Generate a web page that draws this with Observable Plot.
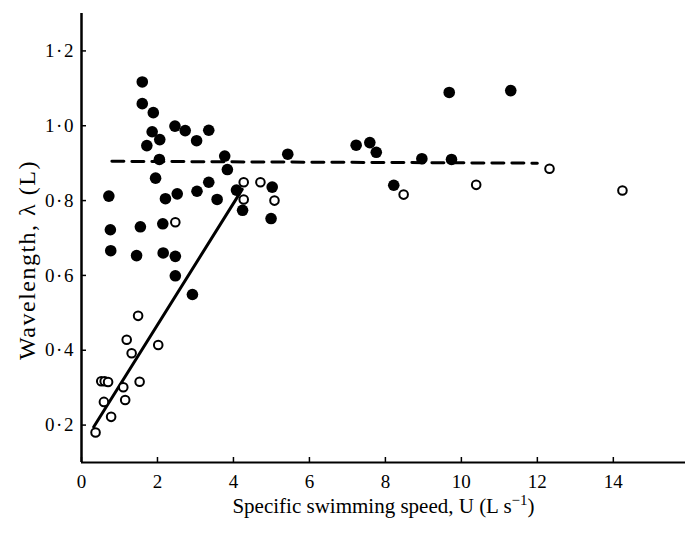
<!DOCTYPE html>
<html>
<head>
<meta charset="utf-8">
<script src="https://cdn.jsdelivr.net/npm/d3@7"></script>
<script src="https://cdn.jsdelivr.net/npm/@observablehq/plot@0.6"></script>
<style>
  html, body { margin: 0; padding: 0; background: #fff; }
  #chart { width: 685px; height: 533px; }
</style>
</head>
<body>
<div id="chart"></div>
<script>
// Filled circles
const filledX = [1.60, 1.60, 1.89, 2.46, 2.73, 3.35, 1.86, 2.06, 3.03, 1.72, 3.77, 2.05, 3.84, 1.95, 3.35, 3.04, 2.52, 2.21, 3.57, 0.72, 4.08, 5.02, 4.24, 4.99, 0.76, 1.55, 2.14, 0.77, 1.45, 2.15, 2.47, 2.47, 2.92, 5.43, 7.23, 7.59, 7.76, 8.96, 8.22, 9.68, 11.30, 9.74];
const filledY = [1.117, 1.059, 1.035, 0.999, 0.987, 0.988, 0.984, 0.963, 0.960, 0.947, 0.919, 0.910, 0.883, 0.860, 0.849, 0.825, 0.818, 0.805, 0.803, 0.812, 0.828, 0.836, 0.774, 0.752, 0.722, 0.730, 0.738, 0.666, 0.653, 0.660, 0.651, 0.599, 0.549, 0.924, 0.948, 0.955, 0.929, 0.912, 0.841, 1.089, 1.094, 0.910];
// Open circles
const openX = [0.37, 0.78, 0.59, 1.15, 1.10, 0.52, 0.61, 0.70, 1.53, 1.32, 2.02, 1.19, 1.49, 2.47, 4.27, 4.71, 4.27, 5.08, 8.48, 10.39, 12.32, 14.24];
const openY = [0.180, 0.222, 0.262, 0.267, 0.301, 0.317, 0.317, 0.315, 0.316, 0.392, 0.414, 0.428, 0.492, 0.742, 0.849, 0.849, 0.803, 0.800, 0.816, 0.842, 0.885, 0.827];
// Fitted lines
const solidX = [0.32, 4.23];
const solidY = [0.195, 0.830];
const dashX = [0.80, 12.0];
const dashY = [0.905, 0.900];
// Ticks and labels
const xTicks = [0, 2, 4, 6, 8, 10, 12, 14];
const yTicks = [0.2, 0.4, 0.6, 0.8, 1.0, 1.2];
const xDomain = [0, 15.9];
const yDomain = [0.1, 1.3];
const xTitle = "Specific swimming speed, U (L s";
const xTitleSup = "−1";
const yTitle = "Wavelength, λ (L)";

const filled = filledX.map((x, i) => ({x, y: filledY[i]}));
const open = openX.map((x, i) => ({x, y: openY[i]}));
const solid = solidX.map((x, i) => ({x, y: solidY[i]}));
const dash = dashX.map((x, i) => ({x, y: dashY[i]}));

const chart = Plot.plot({
  width: 685,
  height: 533,
  marginLeft: 81,
  marginRight: 0,
  marginTop: 13,
  marginBottom: 71,
  style: {fontFamily: "'Liberation Serif', 'DejaVu Serif', serif", fontSize: "19px", color: "#000", background: "#fff"},
  x: {domain: xDomain},
  y: {domain: yDomain},
  marks: [
    Plot.axisX({ticks: xTicks, tickSize: -5, tickPadding: 17, tickFormat: d => String(d), stroke: "#000", strokeWidth: 1.5,
      label: xTitle + xTitleSup + ")", labelArrow: "none", labelAnchor: "center", labelOffset: 50}),
    Plot.axisY({ticks: yTicks, tickSize: -5, tickPadding: 13, tickFormat: d => d.toFixed(1).replace(".", "\u200A·\u200A"), stroke: "#000", strokeWidth: 1.5,
      label: null}),
    Plot.text([yTitle], {text: d => d, frameAnchor: "left", rotate: -90, dx: -54, dy: 22, fontSize: 24, textAnchor: "middle", fill: "#000"}),
    Plot.ruleX([xDomain[0]], {stroke: "#000", strokeWidth: 2.5}),
    Plot.ruleY([yDomain[0]], {stroke: "#000", strokeWidth: 2}),
    Plot.line(dash, {x: "x", y: "y", stroke: "#000", strokeWidth: 3, strokeDasharray: "12,8"}),
    Plot.line(solid, {x: "x", y: "y", stroke: "#000", strokeWidth: 3}),
    Plot.dot(filled, {x: "x", y: "y", r: 5.8, fill: "#000", stroke: "none"}),
    Plot.dot(open, {x: "x", y: "y", r: 4.3, fill: "#fff", stroke: "#000", strokeWidth: 2})
  ]
});

// Superscript for the x label, spacing for the y title
chart.querySelectorAll("text").forEach(t => {
  const s = t.textContent;
  if (s.startsWith(xTitle)) {
    t.textContent = "";
    t.setAttribute("font-size", "21");
    const ns = "http://www.w3.org/2000/svg";
    const a = document.createElementNS(ns, "tspan"); a.textContent = xTitle;
    const b = document.createElementNS(ns, "tspan"); b.textContent = xTitleSup; b.setAttribute("dy", "-8"); b.setAttribute("font-size", "15");
    const c = document.createElementNS(ns, "tspan"); c.textContent = ")"; c.setAttribute("dy", "8");
    t.append(a, b, c);
  } else if (s === yTitle) {
    t.setAttribute("letter-spacing", "1.5");
  }
});
document.getElementById("chart").appendChild(chart);
</script>
</body>
</html>
